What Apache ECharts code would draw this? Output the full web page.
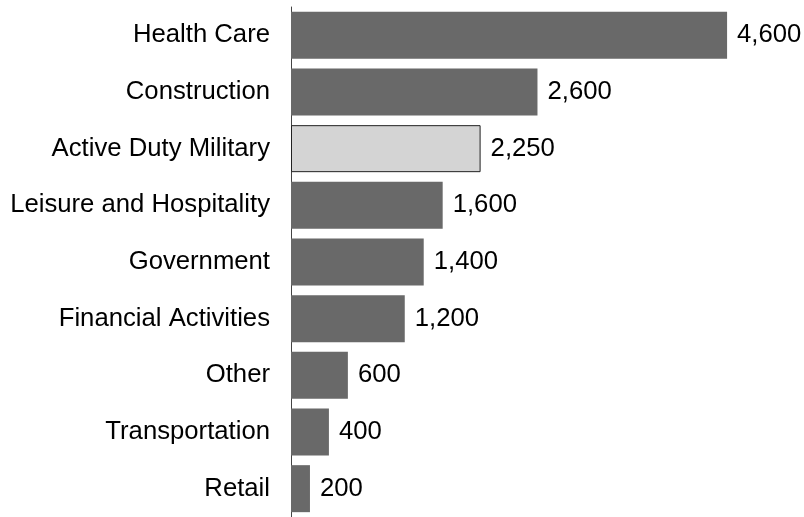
<!DOCTYPE html>
<html>
<head>
<meta charset="utf-8">
<script src="https://cdn.jsdelivr.net/npm/echarts@6/dist/echarts.min.js"></script>
<style>
html,body{margin:0;padding:0;background:#fff;}
#chart{width:804px;height:517px;}
</style>
</head>
<body>
<div id="chart"></div>
<script>
const categories = ["Health Care","Construction","Active Duty Military","Leisure and Hospitality","Government","Financial Activities","Other","Transportation","Retail"];
const barValues = [4600, 2600, 2000, 1600, 1400, 1200, 600, 400, 200];
const valueLabels = ["4,600","2,600","2,250","1,600","1,400","1,200","600","400","200"];
const highlightCategory = "Active Duty Military";

const chart = echarts.init(document.getElementById('chart'), null, {renderer:'canvas'});
const font = 'Liberation Sans, Arial, sans-serif';
const data = barValues.map((v, i) => {
  const hl = categories[i] === highlightCategory;
  return {
    value: v,
    itemStyle: hl ? {color:'#d4d4d4', borderColor:'#222', borderWidth:1} : {color:'#696969'}
  };
});
chart.setOption({
  animation: false,
  grid: {left: 291, right: 39, top: 7, bottom: -2, containLabel: false},
  xAxis: {type:'value', min:0, max:5000, show:false},
  yAxis: {
    type:'category', data: categories, inverse: true,
    axisLine:{show:true, lineStyle:{color:'#444', width:1}},
    axisTick:{show:false},
    axisLabel:{color:'#000', fontSize:25.7, fontFamily:font, margin:21}
  },
  series: [{
    type:'bar', data: data, barWidth: 47,
    label:{show:true, position:'right', distance:10, color:'#000', fontSize:25.7, fontFamily:font,
      formatter: p => valueLabels[p.dataIndex]}
  }]
});
</script>
</body>
</html>
